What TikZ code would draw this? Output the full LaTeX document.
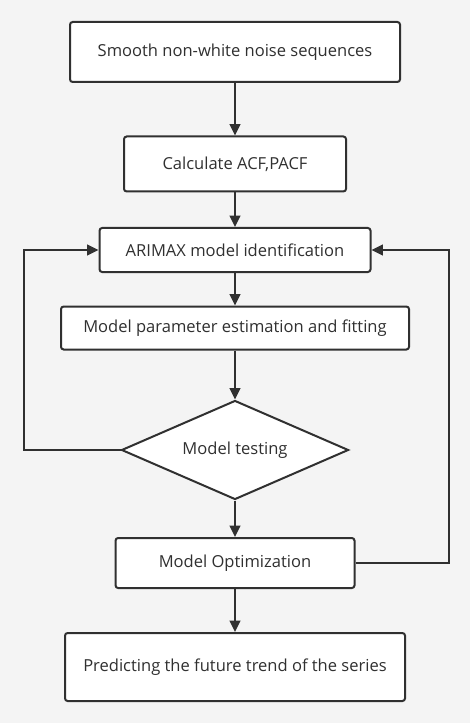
\documentclass[tikz,border=0pt]{standalone}
\usepackage{fontspec}
\setmainfont{Open Sans}
\usepackage{tikz}
\usetikzlibrary{arrows.meta,shapes.geometric}
\definecolor{ink}{HTML}{303030}
\definecolor{paper}{HTML}{F4F4F4}

\begin{document}
\begin{tikzpicture}[x=0.75pt, y=-0.75pt, line width=1.5pt]
	\tikzstyle{every node} = [font=\fontsize{12.4}{14}\selectfont, text=ink]
	\tikzstyle{stepbox} = [rectangle, draw=ink, fill=white, rounded corners=2pt, inner sep=0pt]
	\tikzstyle{testbox} = [diamond, aspect=2.3, draw=ink, fill=white, inner sep=0pt]
	\tikzstyle{flow} = [draw=ink, -{Triangle[length=8.5pt,width=8pt]}]
	\fill[paper] (0,0) rectangle (470,723);
	\useasboundingbox (0,0) rectangle (470,723);
	\node[stepbox, minimum width=247.5pt, minimum height=45pt]    (smooth) at (235, 52)  {Smooth non-white noise sequences};
	\node[stepbox, minimum width=166.5pt, minimum height=41.25pt] (acf)    at (235, 164) {Calculate ACF,PACF};
	\node[stepbox, minimum width=203.25pt, minimum height=33pt]   (ident)  at (235, 250) {ARIMAX model identification};
	\node[stepbox, minimum width=261pt, minimum height=32.25pt]   (fit)    at (235, 328) {Model parameter estimation and fitting};
	\node[testbox, minimum width=170.25pt, minimum height=74.25pt] (test)  at (235, 450) {Model testing};
	\node[stepbox, minimum width=179.25pt, minimum height=37.5pt] (optim)  at (235, 563) {Model Optimization};
	\node[stepbox, minimum width=255pt, minimum height=51pt]      (pred)   at (235, 667) {Predicting the future trend of the series};
	\draw [flow] (smooth.south) -- (acf.north);
	\draw [flow] (acf.south)    -- (ident.north);
	\draw [flow] (ident.south)  -- (fit.north);
	\draw [flow] (fit.south)    -- (test.north);
	\draw [flow] (test.south)   -- (optim.north);
	\draw [flow] (optim.south)  -- (pred.north);
	\draw [flow] (test.west) -- ++(-97,0) |- (ident.west);
	\draw [flow] (optim.east) -- ++(93,0) |- (ident.east);
\end{tikzpicture}
\end{document}
